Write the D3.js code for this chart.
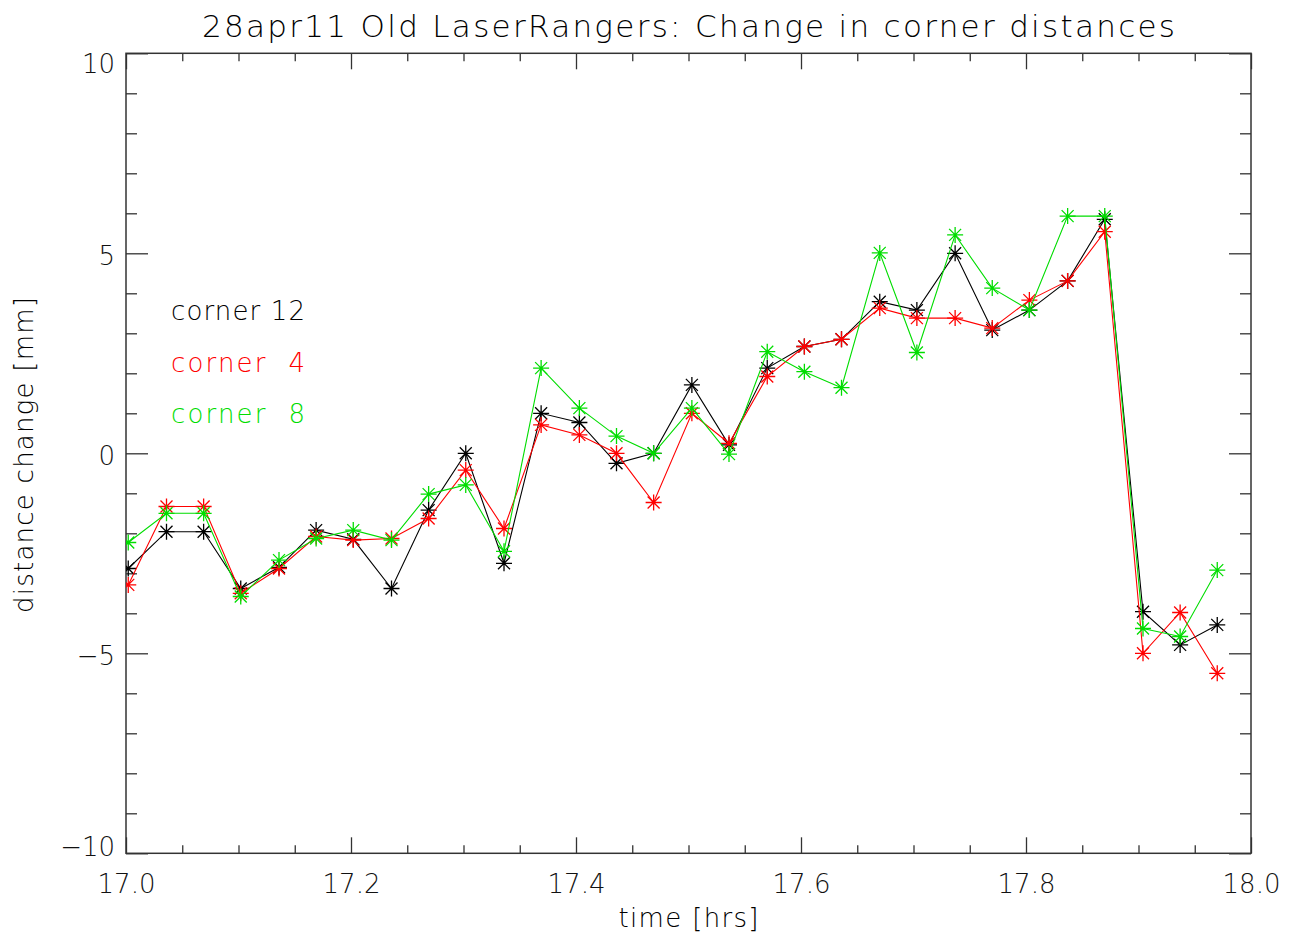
<!DOCTYPE html>
<html>
<head>
<meta charset="utf-8">
<script src="https://cdn.jsdelivr.net/npm/d3@7"></script>
<style>
  body { margin: 0; background: #fff; }
  text { font-family: "DejaVu Sans", sans-serif; font-weight: 200; }
</style>
</head>
<body>
<svg id="grafico" width="1296" height="941"></svg>
<script>
// tiempos de cada medida (horas)
const times = [17.002, 17.036, 17.069, 17.102, 17.136, 17.169, 17.202, 17.236, 17.269, 17.302,
               17.336, 17.369, 17.403, 17.436, 17.469, 17.503, 17.536, 17.570, 17.603, 17.636,
               17.670, 17.703, 17.737, 17.770, 17.803, 17.837, 17.870, 17.904, 17.937, 17.970];
// cambio de distancia por esquina (mm)
const corner12 = [-2.88, -1.96, -1.96, -3.38, -2.85, -1.92, -2.15, -3.38, -1.42, 0.00,
                  -2.75, 1.00, 0.77, -0.25, 0.00, 1.71, 0.21, 2.13, 2.67, 2.85,
                  3.79, 3.58, 5.00, 3.08, 3.58, 4.31, 5.85, -3.96, -4.79, -4.29];
const corner4 = [-3.29, -1.33, -1.33, -3.50, -2.88, -2.08, -2.17, -2.13, -1.63, -0.42,
                 -1.88, 0.71, 0.46, 0.00, -1.23, 1.00, 0.25, 1.92, 2.67, 2.85,
                 3.63, 3.38, 3.38, 3.13, 3.83, 4.31, 5.54, -5.00, -3.98, -5.50];
const corner8 = [-2.23, -1.50, -1.50, -3.58, -2.67, -2.13, -1.92, -2.17, -1.02, -0.79,
                 -2.45, 2.13, 1.13, 0.43, 0.00, 1.13, -0.02, 2.54, 2.04, 1.64,
                 5.01, 2.52, 5.46, 4.13, 3.58, 5.93, 5.93, -4.38, -4.58, -2.92];
const seriesNames = ["corner 12", "corner  4", "corner  8"];
const seriesColors = ["#000000", "#ff0000", "#00dd00"];

const xMajorTicks = [17.0, 17.2, 17.4, 17.6, 17.8, 18.0];
const xMinorTicks = [17.05, 17.1, 17.15, 17.25, 17.3, 17.35, 17.45, 17.5, 17.55,
                     17.65, 17.7, 17.75, 17.85, 17.9, 17.95];
const yMajorTicks = [-10, -5, 0, 5, 10];
const yMinorTicks = [-9, -8, -7, -6, -4, -3, -2, -1, 1, 2, 3, 4, 6, 7, 8, 9];

const svg = d3.select("#grafico");
const plotLeft = 126, plotRight = 1251, plotTop = 53.3, plotBottom = 853.3;
const axisColor = "#333";

const x = d3.scaleLinear().domain([17, 18]).range([plotLeft, plotRight]);
const y = d3.scaleLinear().domain([-10, 10]).range([plotBottom, plotTop]);

// marco y ejes
function styleAxis(g) {
    g.select(".domain").remove();
    g.selectAll(".tick line").attr("stroke", axisColor).attr("stroke-width", 1.3);
    g.selectAll(".tick text").attr("fill", "#111").style("font-size", "26px")
        .style("font-family", "'DejaVu Sans', sans-serif");
}

svg.append("g").attr("transform", `translate(0,${plotBottom})`)
    .call(d3.axisBottom(x).tickValues(xMajorTicks).tickSize(-16).tickPadding(21)
        .tickFormat(d3.format(".1f")))
    .call(styleAxis);
svg.append("g").attr("transform", `translate(0,${plotBottom})`)
    .call(d3.axisBottom(x).tickValues(xMinorTicks).tickSize(-8).tickFormat(""))
    .call(styleAxis);
svg.append("g").attr("transform", `translate(0,${plotTop})`)
    .call(d3.axisTop(x).tickValues(xMajorTicks).tickSize(-16).tickFormat(""))
    .call(styleAxis);
svg.append("g").attr("transform", `translate(0,${plotTop})`)
    .call(d3.axisTop(x).tickValues(xMinorTicks).tickSize(-8).tickFormat(""))
    .call(styleAxis);

const yAxisG = svg.append("g").attr("transform", `translate(${plotLeft},0)`)
    .call(d3.axisLeft(y).tickValues(yMajorTicks).tickSize(-22).tickPadding(11)
        .tickFormat(d3.format("d")))
    .call(styleAxis);
yAxisG.selectAll(".tick text").attr("dy", d => d === 10 ? "0.75em" : d === -10 ? "0.07em" : "0.42em");
svg.append("g").attr("transform", `translate(${plotLeft},0)`)
    .call(d3.axisLeft(y).tickValues(yMinorTicks).tickSize(-11).tickFormat(""))
    .call(styleAxis);
svg.append("g").attr("transform", `translate(${plotRight},0)`)
    .call(d3.axisRight(y).tickValues(yMajorTicks).tickSize(-22).tickFormat(""))
    .call(styleAxis);
svg.append("g").attr("transform", `translate(${plotRight},0)`)
    .call(d3.axisRight(y).tickValues(yMinorTicks).tickSize(-11).tickFormat(""))
    .call(styleAxis);

svg.append("rect")
    .attr("x", plotLeft).attr("y", plotTop)
    .attr("width", plotRight - plotLeft).attr("height", plotBottom - plotTop)
    .attr("fill", "none").attr("stroke", axisColor).attr("stroke-width", 1.5);

// recorte al área del gráfico
svg.append("clipPath").attr("id", "area")
    .append("rect").attr("x", plotLeft).attr("y", plotTop)
    .attr("width", plotRight - plotLeft).attr("height", plotBottom - plotTop);

const line = d3.line().x(d => x(d.t)).y(d => y(d.v));
const asterisco = "M-8,0H8M0,-8V8M-6,-6L6,6M-6,6L6,-6";

[corner12, corner4, corner8].forEach((serie, k) => {
    const datos = times.map((t, i) => ({ t: t, v: serie[i] }));
    const g = svg.append("g").attr("clip-path", "url(#area)");
    g.append("path")
        .datum(datos)
        .attr("d", line)
        .attr("fill", "none")
        .attr("stroke", seriesColors[k])
        .attr("stroke-width", 1.1);
    g.selectAll("path.sym")
        .data(datos)
        .join("path")
        .attr("class", "sym")
        .attr("d", asterisco)
        .attr("transform", d => `translate(${x(d.t)},${y(d.v)})`)
        .attr("stroke", seriesColors[k])
        .attr("stroke-width", 1.3)
        .attr("fill", "none");
    // leyenda
    svg.append("text")
        .attr("x", 171)
        .attr("y", 320 + k * 51.5)
        .attr("fill", seriesColors[k])
        .attr("textLength", 134).attr("lengthAdjust", "spacing")
        .style("font-size", "26px")
        .style("white-space", "pre")
        .text(seriesNames[k]);
});

// títulos
svg.append("text")
    .attr("x", (plotLeft + plotRight) / 2).attr("y", 37)
    .attr("text-anchor", "middle")
    .attr("textLength", 973).attr("lengthAdjust", "spacing")
    .style("font-size", "31px")
    .text("28apr11 Old LaserRangers: Change in corner distances");
svg.append("text")
    .attr("x", (plotLeft + plotRight) / 2).attr("y", 927)
    .attr("text-anchor", "middle")
    .attr("textLength", 140).attr("lengthAdjust", "spacing")
    .style("font-size", "26px")
    .text("time [hrs]");
svg.append("text")
    .attr("transform", "translate(33,455) rotate(-90)")
    .attr("text-anchor", "middle")
    .attr("textLength", 316).attr("lengthAdjust", "spacing")
    .style("font-size", "26px")
    .text("distance change [mm]");
</script>
</body>
</html>
